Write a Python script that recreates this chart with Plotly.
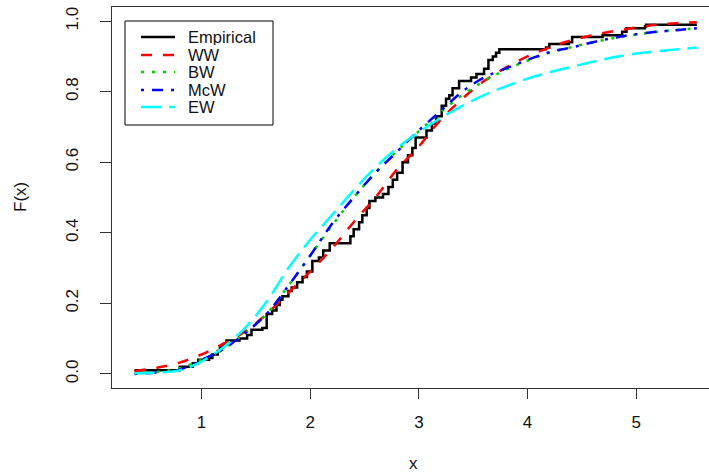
import plotly.graph_objects as go

# Empirical CDF step knots (x, F after step)
emp_x = [0.384, 0.80, 0.92, 0.97, 1.07, 1.10, 1.15, 1.17, 1.20, 1.23, 1.35, 1.42, 1.46, 1.56, 1.60,
         1.65, 1.69, 1.72, 1.745, 1.80, 1.83, 1.88, 1.93, 1.97, 2.02, 2.08, 2.12, 2.18, 2.37, 2.40,
         2.45, 2.48, 2.52, 2.545, 2.60, 2.67, 2.72, 2.76, 2.80, 2.85, 2.90, 2.94, 2.97, 3.07, 3.12,
         3.16, 3.21, 3.25, 3.28, 3.31, 3.37, 3.48, 3.53, 3.60, 3.64, 3.68, 3.71, 3.74, 4.17, 4.20,
         4.38, 4.41, 4.69, 4.87, 4.91, 5.08, 5.09, 5.557]
emp_y = [0.010, 0.020, 0.030, 0.040, 0.045, 0.055, 0.065, 0.075, 0.085, 0.095, 0.100, 0.110, 0.125, 0.130, 0.170,
         0.180, 0.195, 0.210, 0.220, 0.235, 0.245, 0.260, 0.275, 0.290, 0.320, 0.330, 0.350, 0.370, 0.390, 0.410,
         0.430, 0.450, 0.470, 0.490, 0.500, 0.510, 0.530, 0.550, 0.570, 0.600, 0.620, 0.640, 0.670, 0.690, 0.710,
         0.730, 0.760, 0.780, 0.790, 0.810, 0.830, 0.840, 0.850, 0.865, 0.890, 0.900, 0.910, 0.920, 0.925, 0.935,
         0.940, 0.955, 0.960, 0.970, 0.980, 0.985, 0.990, 0.990]

# Fitted CDFs read at grid points
fit_x = [0.384, 0.6, 0.8, 1.0, 1.2, 1.4, 1.6, 1.8, 2.0, 2.2, 2.4, 2.6, 2.8, 3.0, 3.2, 3.4,
         3.6, 3.8, 4.0, 4.2, 4.4, 4.6, 4.8, 5.0, 5.2, 5.4, 5.557]
ww = [0.008, 0.018, 0.032, 0.055, 0.085, 0.120, 0.170, 0.230, 0.290, 0.355, 0.430, 0.500, 0.580, 0.645,
      0.720, 0.780, 0.830, 0.868, 0.900, 0.925, 0.945, 0.960, 0.972, 0.982, 0.990, 0.995, 0.997]
bw = [0.001, 0.006, 0.016, 0.040, 0.070, 0.115, 0.170, 0.250, 0.335, 0.420, 0.500, 0.570, 0.632, 0.688,
      0.742, 0.790, 0.830, 0.862, 0.888, 0.910, 0.926, 0.940, 0.952, 0.962, 0.970, 0.976, 0.980]
mcw = [0.000, 0.004, 0.012, 0.040, 0.070, 0.115, 0.170, 0.250, 0.335, 0.425, 0.500, 0.570, 0.630, 0.690,
       0.745, 0.800, 0.840, 0.866, 0.890, 0.912, 0.925, 0.940, 0.953, 0.963, 0.970, 0.975, 0.980]
ew = [0.002, 0.004, 0.010, 0.035, 0.075, 0.130, 0.205, 0.300, 0.380, 0.450, 0.520, 0.585, 0.640, 0.685,
      0.725, 0.760, 0.790, 0.815, 0.837, 0.855, 0.870, 0.885, 0.898, 0.908, 0.915, 0.920, 0.925]

series_names = ["Empirical", "WW", "BW", "McW", "EW"]
x_ticks = [1, 2, 3, 4, 5]
y_ticks = [0.0, 0.2, 0.4, 0.6, 0.8, 1.0]
y_tick_text = ["0.0", "0.2", "0.4", "0.6", "0.8", "1.0"]

FONT = "Liberation Sans, Arial, sans-serif"
TXT = "#111111"
LW = 2.5
styles = [
    dict(color="black", width=LW),
    dict(color="#FF0000", width=LW, dash="11px,11px"),
    dict(color="#00CD00", width=LW, dash="3px,8px"),
    dict(color="#0000FF", width=LW, dash="3px,8px,11px,8px"),
    dict(color="#00FFFF", width=LW, dash="20px,8px"),
]

fig = go.Figure()
fig.add_trace(go.Scatter(x=emp_x, y=emp_y, mode="lines", name=series_names[0],
                         line=dict(styles[0], shape="hv")))
for name, vals, st in zip(series_names[1:], [ww, bw, mcw, ew], styles[1:]):
    fig.add_trace(go.Scatter(x=fit_x, y=vals, mode="lines", name=name,
                             line=dict(st, shape="spline")))

W, H = 709, 476
ML, MR, MT, MB = 112, 0, 7, 88
PW, PH = W - ML - MR, H - MT - MB


def px(x):
    return (x - ML) / PW


def py(y):
    return (H - MB - y) / PH


shapes = []
annotations = []
# legend box
shapes.append(dict(type="rect", xref="paper", yref="paper", x0=px(125), x1=px(273),
                   y0=py(125), y1=py(21), line=dict(color="black", width=1),
                   fillcolor="white", layer="above"))
leg_y = [37, 55, 72, 90, 107]
for name, st, yy in zip(series_names, styles, leg_y):
    shapes.append(dict(type="line", xref="paper", yref="paper", x0=px(141), x1=px(175),
                       y0=py(yy), y1=py(yy), line=st, layer="above"))
    annotations.append(dict(text=name, x=px(187), y=py(yy), xref="paper", yref="paper",
                            xanchor="left", yanchor="middle", showarrow=False,
                            height=16, borderpad=0, valign="middle",
                            font=dict(family=FONT, size=16.5, color=TXT)))
# axis titles
annotations.append(dict(text="x", x=px(413), y=py(463), xref="paper", yref="paper",
                        xanchor="center", yanchor="middle", showarrow=False,
                        font=dict(family=FONT, size=17, color=TXT)))
annotations.append(dict(text="F(x)", x=px(20), y=py(197), xref="paper", yref="paper",
                        xanchor="center", yanchor="middle", showarrow=False, textangle=-90,
                        font=dict(family=FONT, size=17, color=TXT)))

fig.update_layout(
    width=W, height=H,
    margin=dict(l=ML, r=MR, t=MT, b=MB, autoexpand=False),
    paper_bgcolor="white", plot_bgcolor="white",
    font=dict(family=FONT, size=17, color=TXT),
    showlegend=False,
    xaxis=dict(range=[0.177, 5.669], tickvals=x_ticks, ticks="outside", ticklen=10,
               tickcolor="#333333", tickwidth=1, showline=True, linecolor="#333333",
               linewidth=1, mirror=True, showgrid=False, zeroline=False, automargin=False,
               ticklabelstandoff=9,
               tickfont=dict(family=FONT, size=17, color=TXT)),
    yaxis=dict(range=[-0.04, 1.04], tickvals=y_ticks, ticktext=y_tick_text,
               ticks="outside", ticklen=11, tickcolor="#333333", tickwidth=1,
               showline=True, linecolor="#333333", linewidth=1, mirror=False,
               showgrid=False, zeroline=False, tickangle=-90, automargin=False,
               ticklabelstandoff=15,
               tickfont=dict(family=FONT, size=17, color=TXT)),
    shapes=shapes,
    annotations=annotations,
)

fig.write_html("out.html", post_script="document.body.style.margin='0';",
               config={"displayModeBar": False})
